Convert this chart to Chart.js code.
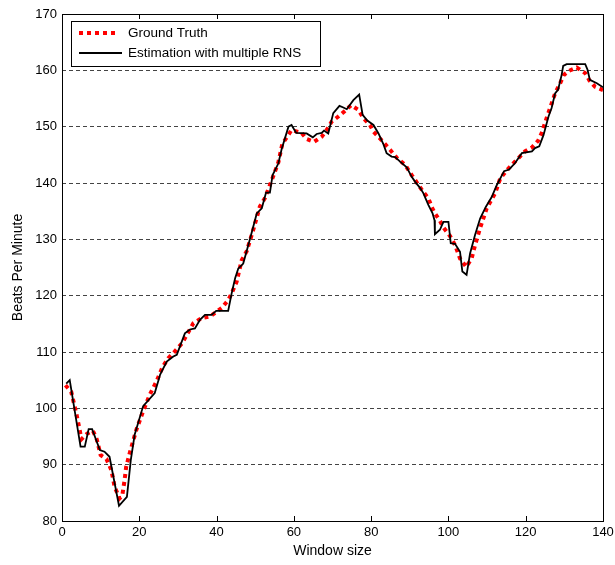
<!DOCTYPE html>
<html lang="en">
<head>
  <meta charset="UTF-8" />
  <title>Beats Per Minute vs Window size</title>
  <script src="https://cdn.jsdelivr.net/npm/chart.js"></script>
  <style>
    body { margin: 0; background: #fff; }
    #wrap { width: 615px; height: 565px; position: relative; }
  </style>
</head>
<body>
  <div id="wrap"><canvas id="bpmChart"></canvas></div>

  <script>
    // Ground truth
    const gtX = [0.9, 2.4, 3.7, 4.6, 5.0, 6.5, 8.0, 9.0, 10.0, 11.5, 12.8, 13.6, 14.9, 15.6, 16.2, 16.6, 17.5, 19.2, 21.0, 22.7,
      24.4, 26.0, 27.5, 29.2, 31.0, 34.0, 36.1, 38.3, 41.3, 43.0, 43.9, 45.2, 46.5, 47.8, 49.5, 51.2, 52.5, 55.1, 56.0, 57.0,
      59.4, 62.0, 63.3, 65.2, 67.2, 68.5, 69.8, 71.5, 73.2, 74.8, 76.7, 78.0, 79.7, 80.6, 82.3, 84.9, 86.6, 88.8, 90.5, 92.3,
      93.5, 94.8, 95.7, 96.5, 97.8, 98.7, 100.4, 101.7, 103.0, 104.6, 106.0, 106.9, 108.2, 109.9, 112.1, 113.4, 114.9, 116.8, 119.8, 121.6,
      123.2, 124.1, 125.4, 126.7, 127.6, 128.9, 129.9, 131.2, 133.2, 135.4, 136.5, 137.9, 140.0];
    const gtY = [104.1, 102.9, 99.1, 96.1, 94.5, 95.5, 96.0, 94.5, 91.7, 91.0, 89.0, 86.1, 84.0, 84.5, 87.3, 89.6, 92.0, 96.1, 99.5, 102.4,
      104.7, 107.3, 108.9, 110.1, 111.5, 115.1, 116.0, 116.3, 117.8, 119.2, 120.4, 122.5, 126.3, 127.9, 131.7, 135.8, 137.3, 142.0, 143.7, 146.9,
      149.4, 148.9, 147.8, 147.3, 148.2, 149.4, 150.9, 151.8, 152.8, 153.8, 153.0, 151.5, 150.3, 149.1, 147.9, 145.9, 144.5, 143.2, 141.4, 139.6,
      138.4, 137.3, 135.7, 134.6, 133.3, 132.1, 130.6, 129.0, 126.6, 125.1, 126.6, 129.0, 132.0, 135.5, 138.2, 140.8, 142.1, 143.5, 145.6, 146.3,
      147.5, 148.8, 151.5, 154.1, 155.9, 157.7, 159.2, 159.9, 160.5, 159.5, 158.2, 157.1, 156.5];

    // Estimation with multiple RNS
    const estX = [1.1, 2.0, 4.8, 5.9, 6.9, 7.8, 9.8, 11.0, 12.3, 14.75, 16.8, 17.8, 18.8, 21.0, 24.0, 25.4, 27.1, 28.8, 29.7, 31.8,
      33.1, 34.4, 35.7, 37.0, 38.7, 39.9, 43.0, 43.9, 44.8, 45.6, 46.9, 48.7, 50.4, 51.7, 52.8, 53.8, 54.5, 56.0, 56.8, 58.6,
      59.4, 60.6, 63.3, 64.9, 65.9, 67.2, 67.8, 68.9, 70.2, 71.8, 72.8, 73.7, 75.4, 76.9, 77.8, 79.0, 80.6, 81.9, 83.1, 84.0,
      85.3, 86.2, 87.5, 89.2, 90.5, 91.4, 92.7, 93.5, 94.8, 95.9, 96.4, 96.5, 97.8, 98.7, 100.0, 100.6, 101.7, 103.0, 103.6, 104.7,
      105.6, 106.9, 108.2, 109.7, 111.2, 112.5, 114.4, 115.7, 117.2, 119.0, 121.6, 122.4, 123.5, 124.6, 125.9, 126.7, 127.6, 128.4, 129.3, 129.7,
      130.6, 135.4, 136.0, 136.6, 138.4, 140.0];
    const estY = [104.4, 105.0, 93.2, 93.2, 96.3, 96.3, 92.6, 92.3, 91.4, 82.7, 84.3, 90.8, 95.3, 100.4, 102.7, 106.0, 108.3, 109.2, 109.5, 113.3,
      114.0, 114.2, 115.7, 116.6, 116.6, 117.3, 117.3, 120.4, 123.1, 124.8, 125.7, 130.2, 134.6, 135.5, 138.3, 138.3, 141.4, 143.5, 145.9, 150.0,
      150.3, 148.9, 148.8, 148.1, 148.7, 148.9, 149.3, 148.8, 152.4, 153.7, 153.4, 153.1, 154.7, 155.7, 152.1, 151.1, 150.3, 148.8, 147.0, 145.3,
      144.7, 144.6, 143.8, 142.8, 141.1, 140.2, 139.1, 138.2, 136.1, 134.6, 133.4, 130.9, 131.7, 133.1, 133.1, 129.3, 129.2, 127.8, 124.3, 123.7,
      127.5, 130.8, 133.7, 135.8, 137.5, 139.6, 142.1, 142.4, 143.5, 145.3, 145.6, 146.2, 146.5, 148.5, 151.8, 153.3, 155.9, 156.6, 159.2, 160.8,
      161.1, 161.1, 160.1, 158.3, 157.7, 157.0];

    const xTicks = [0, 20, 40, 60, 80, 100, 120, 140];
    const yTicks = [80, 90, 100, 110, 120, 130, 140, 150, 160, 170];

    const FONT = "'Liberation Sans', Arial, sans-serif";

    // box, inward ticks and the legend inside the plot, MATLAB style
    const frame = {
      id: 'frame',
      afterDraw(chart) {
        const { ctx, chartArea: a, scales } = chart;
        ctx.save();
        ctx.strokeStyle = '#000';
        ctx.lineWidth = 1;
        ctx.setLineDash([]);
        ctx.strokeRect(a.left + 0.5, a.top + 0.5, a.right - a.left, a.bottom - a.top);
        ctx.beginPath();
        xTicks.slice(1, -1).forEach(v => {
          const px = Math.round(scales.x.getPixelForValue(v)) + 0.5;
          ctx.moveTo(px, a.bottom); ctx.lineTo(px, a.bottom - 5);
          ctx.moveTo(px, a.top); ctx.lineTo(px, a.top + 5);
        });
        ctx.stroke();

        // legend
        const lx = 71, ly = 21, lw = 249, lh = 45;
        ctx.fillStyle = '#fff';
        ctx.fillRect(lx, ly, lw, lh);
        ctx.strokeRect(lx + 0.5, ly + 0.5, lw, lh);
        const rows = [chart.data.datasets[1], chart.data.datasets[0]];
        rows.forEach((ds, i) => {
          const y = ly + 12 + i * 20;
          ctx.beginPath();
          ctx.strokeStyle = ds.borderColor;
          ctx.lineWidth = ds.borderWidth;
          ctx.setLineDash(ds.borderDash || []);
          ctx.moveTo(79, y); ctx.lineTo(i === 0 ? 119 : 122, y);
          ctx.stroke();
          ctx.setLineDash([]);
          ctx.fillStyle = '#000';
          ctx.font = '13.5px ' + FONT;
          ctx.textBaseline = 'middle';
          ctx.fillText(ds.label, 128, y);
        });
        ctx.restore();
      }
    };

    new Chart(document.getElementById('bpmChart'), {
      type: 'line',
      data: {
        datasets: [
          {
            label: 'Estimation with multiple RNS',
            data: estX.map((x, i) => ({ x: x, y: estY[i] })),
            borderColor: '#000',
            borderWidth: 1.8,
            pointRadius: 0,
            tension: 0,
            order: 0
          },
          {
            label: 'Ground Truth',
            data: gtX.map((x, i) => ({ x: x, y: gtY[i] })),
            borderColor: '#ff0000',
            borderWidth: 4,
            borderDash: [4, 4],
            borderCapStyle: 'butt',
            pointRadius: 0,
            tension: 0,
            order: 1
          }
        ]
      },
      options: {
        responsive: true,
        maintainAspectRatio: false,
        animation: false,
        layout: { padding: { top: 14, right: 12, left: 0, bottom: 0 } },
        plugins: { legend: { display: false }, tooltip: { enabled: false } },
        scales: {
          x: {
            type: 'linear',
            min: 0,
            max: 140,
            afterBuildTicks: s => { s.ticks = xTicks.map(v => ({ value: v })); },
            afterFit: s => { s.height = 44; s.paddingLeft = 0; s.paddingRight = 0; },
            grid: { display: false, drawTicks: false },
            border: { display: false },
            ticks: { color: '#000', padding: 4, maxRotation: 0, font: { family: FONT, size: 13 } },
            title: { display: true, text: 'Window size', color: '#000', padding: { top: 0, bottom: 5 }, font: { family: FONT, size: 14 } }
          },
          y: {
            min: 80,
            max: 170,
            afterBuildTicks: s => { s.ticks = yTicks.map(v => ({ value: v })); },
            afterFit: s => { s.width = 62; },
            grid: { color: '#444', lineWidth: 1, drawTicks: false },
            border: { display: false, dash: [4, 3] },
            ticks: { color: '#000', padding: 5, font: { family: FONT, size: 13 } },
            title: { display: true, text: 'Beats Per Minute', color: '#000', padding: { top: 10, bottom: 0 }, font: { family: FONT, size: 14 } }
          }
        }
      },
      plugins: [frame]
    });
  </script>
</body>
</html>
